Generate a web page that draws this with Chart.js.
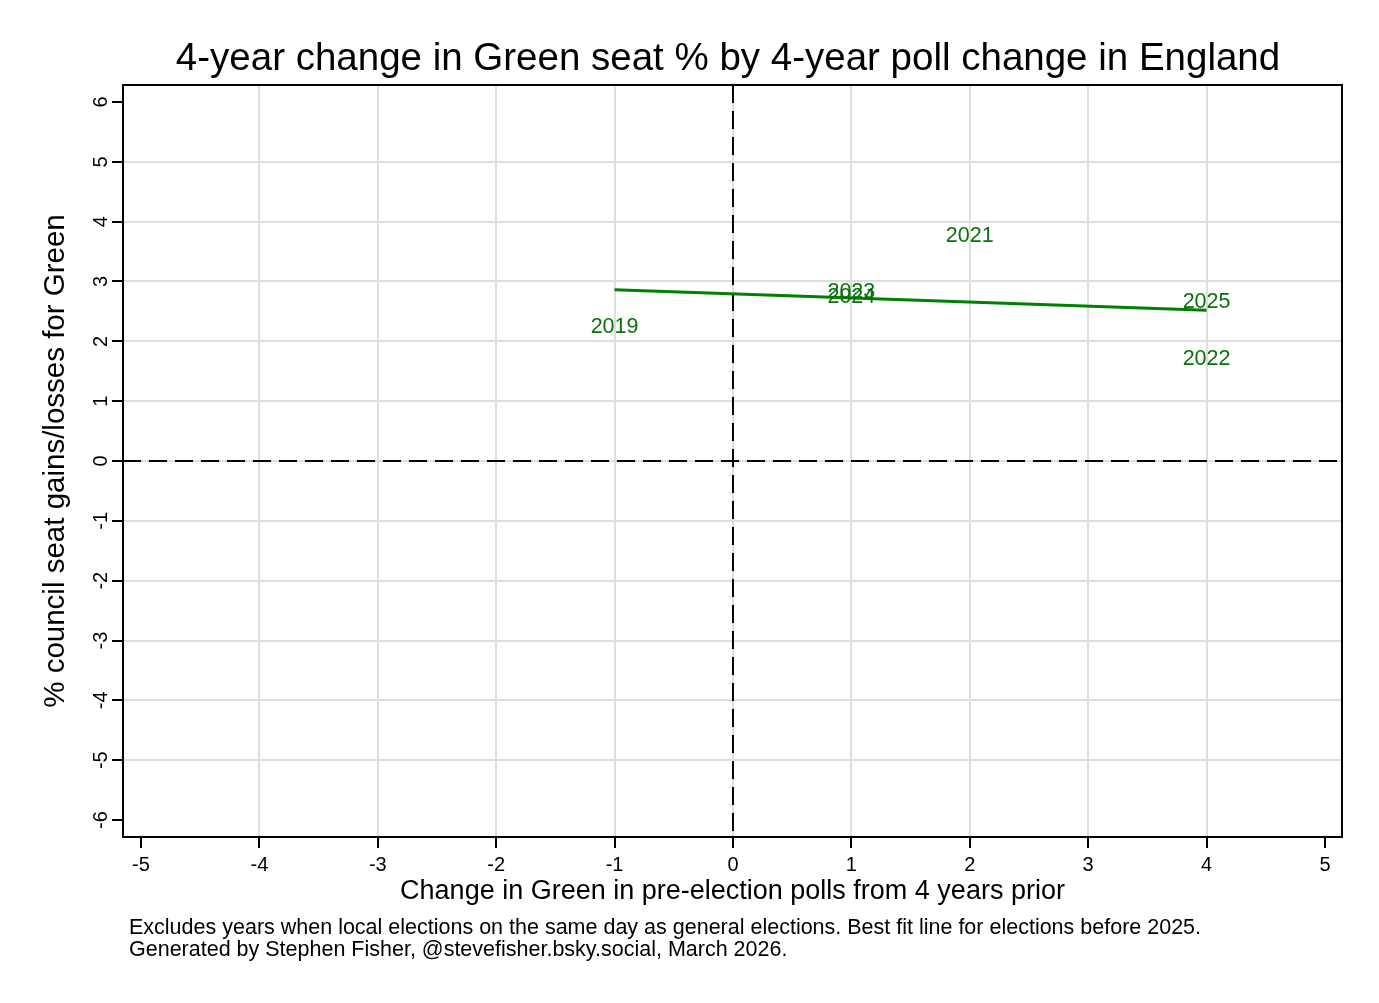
<!DOCTYPE html>
<html>
<head>
<meta charset="utf-8">
<script src="https://cdn.jsdelivr.net/npm/chart.js@4.4.1/dist/chart.umd.min.js"></script>
<style>
  html, body { margin: 0; padding: 0; background: #fff; }
  #wrap { width: 1379px; height: 1003px; }
</style>
</head>
<body>
<div id="wrap"><canvas id="mychart"></canvas></div>
<script>
// データ
const years = ['2019', '2021', '2022', '2023', '2024', '2025'];
const pollChange = [-1, 2, 4, 1, 1, 4];
const seatChange = [2.24, 3.76, 1.70, 2.82, 2.74, 2.66];
const fitX = [-1, 4];
const fitY = [2.86, 2.52];
const xTickValues = [-5, -4, -3, -2, -1, 0, 1, 2, 3, 4, 5];
const yTickValues = [-6, -5, -4, -3, -2, -1, 0, 1, 2, 3, 4, 5, 6];

const FONT = "'Liberation Sans', Arial, Helvetica, sans-serif";
const GREEN = '#0a720a';

const titleText = '4-year change in Green seat % by 4-year poll change in England';
const noteLines = [
  'Excludes years when local elections on the same day as general elections. Best fit line for elections before 2025.',
  'Generated by Stephen Fisher, @stevefisher.bsky.social, March 2026.'
];

// 枠・破線・ラベル描画
const extras = {
  id: 'extras',
  beforeDatasetsDraw(chart) {
    const {ctx, chartArea: a, scales: {x, y}} = chart;
    ctx.save();
    ctx.strokeStyle = '#000';
    ctx.lineWidth = 2;
    ctx.setLineDash([18, 8]);
    ctx.beginPath();
    ctx.moveTo(x.getPixelForValue(0), a.top);
    ctx.lineTo(x.getPixelForValue(0), a.bottom);
    ctx.moveTo(a.left, y.getPixelForValue(0));
    ctx.lineTo(a.right, y.getPixelForValue(0));
    ctx.stroke();
    ctx.restore();
  },
  afterDatasetsDraw(chart) {
    const {ctx, chartArea: a, scales: {x, y}} = chart;
    ctx.save();
    // point labels
    ctx.fillStyle = GREEN;
    ctx.font = '21.5px ' + FONT;
    ctx.textAlign = 'center';
    ctx.textBaseline = 'middle';
    years.forEach((yr, i) => {
      ctx.fillText(yr, x.getPixelForValue(pollChange[i]), y.getPixelForValue(seatChange[i]));
    });
    // frame
    ctx.strokeStyle = '#000';
    ctx.lineWidth = 2;
    ctx.strokeRect(a.left, a.top, a.right - a.left, a.bottom - a.top);
    // title
    ctx.fillStyle = '#000';
    ctx.font = '38.5px ' + FONT;
    ctx.textAlign = 'center';
    ctx.textBaseline = 'middle';
    ctx.fillText(titleText, 728, 59);
    // notes
    ctx.font = '21.5px ' + FONT;
    ctx.textAlign = 'left';
    noteLines.forEach((t, i) => ctx.fillText(t, 129, 928 + i * 22));
    ctx.restore();
  }
};

const gridColor = (c) => {
  const v = c.tick ? c.tick.value : null;
  if (c.scale.axis === 'x' && Math.abs(v) === 5) return 'rgba(0,0,0,0)';
  if (c.scale.axis === 'y' && Math.abs(v) === 6) return 'rgba(0,0,0,0)';
  return '#dedede';
};

let ctx = document.getElementById('mychart');
let myChart = new Chart(ctx, {
  type: 'scatter',
  data: {
    datasets: [{
      label: 'labels',
      data: pollChange.map((v, i) => ({x: v, y: seatChange[i]})),
      pointRadius: 0,
      pointHoverRadius: 0,
    }, {
      label: 'fit',
      type: 'line',
      data: fitX.map((v, i) => ({x: v, y: fitY[i]})),
      borderColor: '#008000',
      borderWidth: 3,
      pointRadius: 0,
      fill: false,
    }],
  },
  options: {
    responsive: true,
    maintainAspectRatio: false,
    animation: false,
    layout: { padding: { top: 85, right: 37, left: 0, bottom: 0 } },
    plugins: {
      legend: { display: false },
      tooltip: { enabled: false },
    },
    scales: {
      x: {
        type: 'linear',
        min: -5.152,
        max: 5.144,
        afterBuildTicks: (s) => { s.ticks = xTickValues.map(v => ({value: v})); },
        afterFit: (s) => { s.height = 166; },
        border: { display: false },
        grid: { color: gridColor, lineWidth: 2, tickColor: '#000', tickWidth: 2, tickLength: 11 },
        ticks: { color: '#000', font: { family: FONT, size: 20 }, padding: 5, maxRotation: 0 },
        title: {
          display: true,
          text: 'Change in Green in pre-election polls from 4 years prior',
          color: '#000',
          font: { family: FONT, size: 27 },
          padding: { top: 95, bottom: 95 },
        },
      },
      y: {
        type: 'linear',
        min: -6.284,
        max: 6.284,
        afterBuildTicks: (s) => { s.ticks = yTickValues.map(v => ({value: v})); },
        afterFit: (s) => { s.width = 123; },
        border: { display: false },
        grid: { color: gridColor, lineWidth: 2, tickColor: '#000', tickWidth: 2, tickLength: 11 },
        ticks: { color: '#000', font: { family: FONT, size: 20 }, padding: 2, minRotation: 90, maxRotation: 90, crossAlign: 'center' },
        title: {
          display: true,
          text: '% council seat gains/losses for Green',
          color: '#000',
          font: { family: FONT, size: 29.5 },
          padding: { top: 38, bottom: 38 },
        },
      },
    },
  },
  plugins: [extras],
});
</script>
</body>
</html>
